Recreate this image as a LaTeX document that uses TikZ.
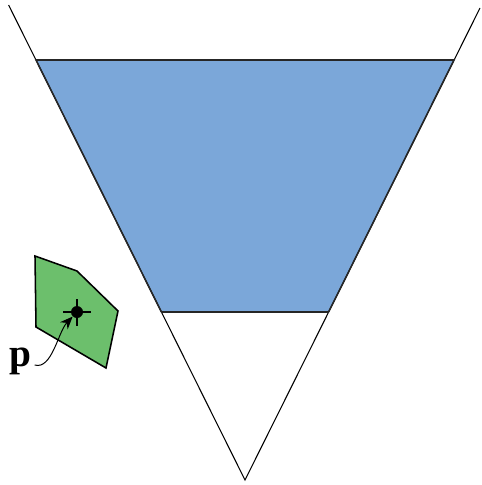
\documentclass[tikz,border=0pt]{standalone}
\usepackage{fontspec}
\setmainfont{Liberation Serif}
\usepackage{tikz}
\usetikzlibrary{arrows.meta}
\definecolor{slabblue}{HTML}{7BA7D9}
\definecolor{regiongreen}{HTML}{6CBF6C}
\tikzset{
  cone/.style={draw=black,line width=0.75pt},
  slabedge/.style={draw=black!85,line width=1.1pt},
  region/.style={draw=black,fill=regiongreen,line width=1.1pt,line join=miter},
  ptdot/.style={circle,fill=black,inner sep=0pt,minimum size=0.3cm},
  ptcross/.style={draw=black,line width=0.8pt},
  ptlbl/.style={font=\fontsize{28}{32}\selectfont\bfseries,inner sep=1pt},
  ptarrow/.style={-{Stealth[length=3.2mm,width=2.6mm]},line width=0.7pt},
}
\begin{document}
\begin{tikzpicture}[x=0.025cm,y=-0.025cm]
  \useasboundingbox (0,0) rectangle (481,485);
  % cone and slab
  \coordinate (apex) at (245,480);
  \coordinate (tl) at (36,60);
  \coordinate (tr) at (454,60);
  \coordinate (bl) at (161.4,312);
  \coordinate (br) at (328.6,312);
  \fill[slabblue] (tl) -- (tr) -- (br) -- (bl) -- cycle;
  \draw[cone] (8.6,5) -- (apex) -- (480,8);
  \draw[slabedge,line join=miter] (bl) -- (tl) -- (tr) -- (br);
  \draw[slabedge] (bl) -- (br);
  % region with point p
  \draw[region] (35,256) -- (77,271) -- (118,311) -- (106,368) -- (36,327) -- cycle;
  \node[ptdot] (pt) at (77,312) {};
  \draw[ptcross] (63,312) -- (91,312);
  \draw[ptcross] (77,299) -- (77,326);
  \node[ptlbl] (plbl) at (20,361) {p};
  \draw[ptarrow] (plbl.east) ++(2,4) .. controls (52,370) and (58,332) .. (pt);
\end{tikzpicture}
\end{document}
